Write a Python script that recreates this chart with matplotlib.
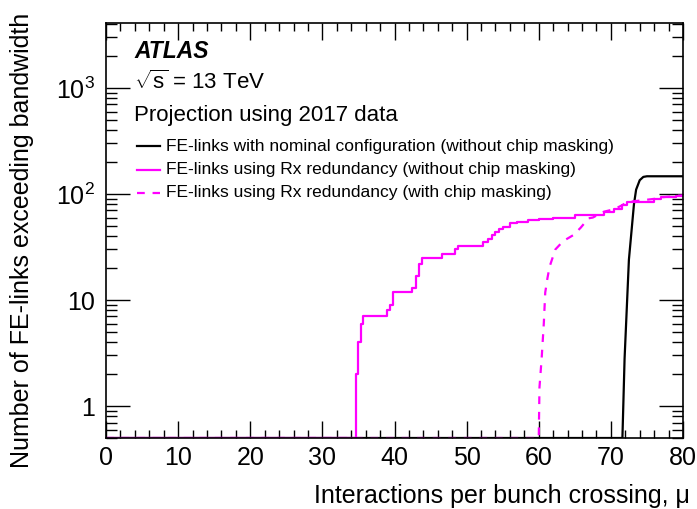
import matplotlib
matplotlib.use("Agg")
import matplotlib.pyplot as plt
import numpy as np
from matplotlib.ticker import NullFormatter, MultipleLocator, LogLocator
from matplotlib.lines import Line2D

plt.rcParams['font.family'] = ['Liberation Sans', 'DejaVu Sans']
plt.rcParams['mathtext.fontset'] = 'custom'
plt.rcParams['mathtext.rm'] = 'Liberation Sans'
plt.rcParams['mathtext.it'] = 'Liberation Sans:italic'

# ---- data ----
# zero entries are drawn at the bottom of the plot (ROOT style)
rx_mu = [0, 34.7, 35.0, 35.3, 35.6, 39.0, 39.4, 39.8, 42.4, 43.0, 43.4, 43.8,
         46.6, 48.4, 48.8, 52.3, 53.0, 53.5, 54.0, 54.5, 55.0, 56.0, 57.0,
         58.5, 60.0, 62.0, 65.0, 69.0, 70.5, 71.5, 72.3, 76.0, 77.0, 79.0, 80.0]
rx_val = [0, 2, 4, 6, 7, 8, 9, 12, 13, 17, 22, 25,
          27, 30, 32.5, 35, 38, 41, 44, 47, 49, 53, 54,
          57, 58, 59, 63, 68, 72, 78, 84, 90, 93, 96, 96]

mask_mu = [0, 60.0, 60.1, 60.4, 60.7, 60.9, 61.2, 61.5, 62.3, 63.4, 64.8, 65.8,
           66.9, 67.5, 69.0, 70.5, 71.5, 72.3, 76.0, 77.0, 79.0, 80.0]
mask_val = [0, 0, 1.5, 2.8, 6, 11.8, 16, 20.6, 30, 36, 41, 48,
            59, 60, 68, 72, 78, 84, 90, 93, 96, 97]

nom_mu = [0, 71.6, 71.9, 72.5, 73.2, 73.5, 74.0, 74.5, 75.0, 80.0]
nom_val = [0, 0, 2.8, 24, 80, 110, 135, 145, 147, 147]

ytick_vals = [1, 10, 100, 1000]
ytick_labels = ['1', '10', r'10$^{2}$', r'10$^{3}$']
xtick_vals = [0, 10, 20, 30, 40, 50, 60, 70, 80]

legend_labels = ['FE-links with nominal configuration (without chip masking)',
                 'FE-links using Rx redundancy (without chip masking)',
                 'FE-links using Rx redundancy (with chip masking)']

YMIN, YMAX = 0.5, 4100

def floor(v):
    return np.where(np.asarray(v, float) <= 0, YMIN, v)

fig = plt.figure(figsize=(6.97, 5.09), dpi=100)
ax = fig.add_axes([106/697, 1-438/509, (683-106)/697, (438-23)/509])

MAG = '#ff00ff'
ax.plot(nom_mu, floor(nom_val), color='black', lw=1.6)
ax.plot(mask_mu, floor(mask_val), color=MAG, lw=1.6, ls=(0, (3.5, 3.5)))
ax.plot(rx_mu, floor(rx_val), color=MAG, lw=1.6, drawstyle='steps-post')

ax.set_yscale('log')
ax.set_xlim(0, 80)
ax.set_ylim(YMIN, YMAX)

ax.set_yticks(ytick_vals)
ax.set_yticklabels(ytick_labels)
ax.yaxis.set_minor_locator(LogLocator(base=10, subs=np.arange(2, 10), numticks=20))
ax.yaxis.set_minor_formatter(NullFormatter())
ax.set_xticks(xtick_vals)
ax.xaxis.set_minor_locator(MultipleLocator(2))

ax.tick_params(which='both', direction='in', top=True, right=True, labelsize=18, width=1)
ax.tick_params(axis='y', which='major', length=17, pad=8)
ax.tick_params(axis='y', which='minor', length=8)
ax.tick_params(axis='x', which='major', length=12, pad=6)
ax.tick_params(axis='x', which='minor', length=6)
for s in ax.spines.values():
    s.set_linewidth(1.2)

ax.set_xlabel('Interactions per bunch crossing, μ', fontsize=18, ha='right')
ax.xaxis.set_label_coords(1 + 7/577, -(484-438)/415)
ax.set_ylabel('Number of FE-links exceeding bandwidth', fontsize=18, ha='right')
ax.yaxis.set_label_coords(-(106-34)/577, 1 + 10/415)

tr = fig.transFigure
def fx(px): return px / 697
def fy(py): return 1 - py / 509

fig.text(fx(134), fy(52), 'ATLAS', fontsize=16.5, fontweight='bold', style='italic', va='center')
fig.text(fx(134), fy(82), r'$\sqrt{\mathrm{s}}$ = 13 TeV', fontsize=16, va='center')
fig.text(fx(134), fy(115), 'Projection using 2017 data', fontsize=16, va='center')

leg_y = [146, 170, 193]
styles = [dict(color='black', ls='-'), dict(color=MAG, ls='-'), dict(color=MAG, ls=(0, (3.5, 3.5)))]
for yy, lab, st in zip(leg_y, legend_labels, styles):
    fig.add_artist(Line2D([fx(137), fx(160)], [fy(yy), fy(yy)], transform=tr, lw=1.6, **st))
    fig.text(fx(166), fy(yy), lab, fontsize=12.5, va='center')

fig.savefig('out.png', dpi=100)
